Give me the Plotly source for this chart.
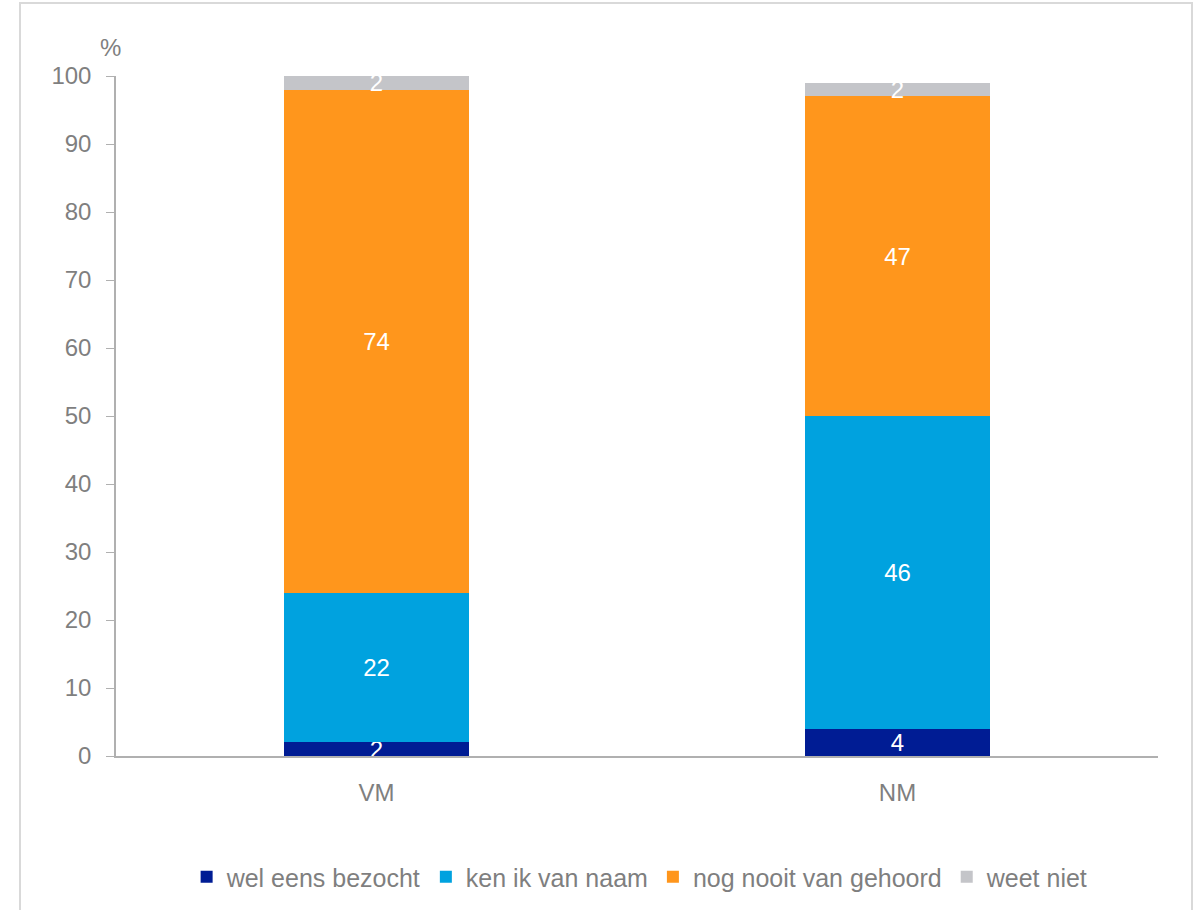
import plotly.graph_objects as go

categories = ["VM", "NM"]
series_names = ["wel eens bezocht", "ken ik van naam", "nog nooit van gehoord", "weet niet"]
wel_eens_bezocht = [2, 4]
ken_ik_van_naam = [22, 46]
nog_nooit_van_gehoord = [74, 47]
weet_niet = [2, 2]
y_ticks = [0, 10, 20, 30, 40, 50, 60, 70, 80, 90, 100]

colors = ["#001C94", "#00A2DF", "#FF961C", "#C4C5C9"]
series_values = [wel_eens_bezocht, ken_ik_van_naam, nog_nooit_van_gehoord, weet_niet]

FONT = "Liberation Sans, Arial, sans-serif"
GREY = "#7F7F7F"

fig = go.Figure()
for name, vals, col in zip(series_names, series_values, colors):
    fig.add_trace(go.Bar(
        x=categories, y=vals, name=name,
        marker=dict(color=col, line=dict(width=0)),
        width=0.355,
        text=[str(v) for v in vals],
        textposition="inside",
        insidetextanchor="middle",
        textangle=0,
        constraintext="none",
        textfont=dict(family=FONT, size=24, color="white"),
        cliponaxis=True,
        hoverinfo="skip",
    ))

fig.update_layout(
    barmode="stack",
    width=1204, height=910,
    margin=dict(l=116, r=46, t=76, b=154, autoexpand=False),
    paper_bgcolor="white", plot_bgcolor="white",
    font=dict(family=FONT, color=GREY),
    showlegend=True,
    legend=dict(
        orientation="h", x=0.503, xanchor="center", y=-0.178, yanchor="middle",
        font=dict(family=FONT, size=25, color=GREY),
        itemwidth=30, traceorder="normal",
    ),
    bargap=0.645,
)

fig.update_yaxes(
    range=[0, 100], tickvals=y_ticks, ticks="outside", ticklen=8, tickcolor="#B0B0B0",
    showline=True, linecolor="#B0B0B0", linewidth=1.5, showgrid=False, zeroline=False,
    tickfont=dict(family=FONT, size=24, color=GREY), ticklabelstandoff=10,
)
fig.update_xaxes(
    showline=True, linecolor="#B0B0B0", linewidth=1.5, ticks="", showgrid=False,
    tickfont=dict(family=FONT, size=24, color=GREY), ticklabelstandoff=14,
)

# unit label above the value axis
fig.add_annotation(
    text="%", xref="paper", yref="paper", x=(110 - 116) / 1042, y=(756 - 48) / 680,
    showarrow=False, xanchor="center", yanchor="middle",
    font=dict(family=FONT, size=24, color=GREY),
)

# light frame around the whole chart
fig.add_shape(
    type="rect", xref="paper", yref="paper",
    x0=(20 - 116) / 1042, x1=(1192 - 116) / 1042,
    y0=(756 - 915) / 680, y1=(756 - 3) / 680,
    line=dict(color="#D9D9D9", width=2), fillcolor="rgba(0,0,0,0)", layer="below",
)

fig.write_html("out.html")
